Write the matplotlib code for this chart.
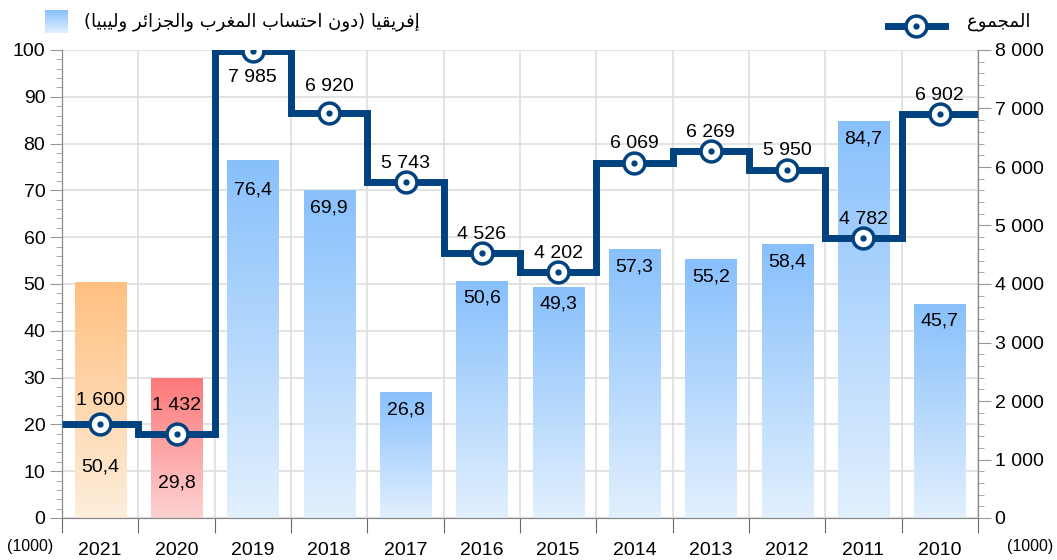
import numpy as np
import matplotlib
matplotlib.use('Agg')
import matplotlib.pyplot as plt
from matplotlib.colors import LinearSegmentedColormap
from matplotlib.lines import Line2D

# data
years = ['2021', '2020', '2019', '2018', '2017', '2016', '2015', '2014',
         '2013', '2012', '2011', '2010']
africa = [50.4, 29.8, 76.4, 69.9, 26.8, 50.6, 49.3, 57.3, 55.2, 58.4, 84.7, 45.7]
total = [1600, 1432, 7985, 6920, 5743, 4526, 4202, 6069, 6269, 5950, 4782, 6902]

legend_bars = 'إفريقيا (دون احتساب المغرب والجزائر وليبيا)'
legend_line = 'المجموع'

# minimal arabic shaping (matplotlib has no shaping / bidi)
FORMS = {
    'ا': ('\ufe8d', '\ufe8e', None, None),
    'إ': ('\ufe87', '\ufe88', None, None),
    'ب': ('\ufe8f', '\ufe90', '\ufe91', '\ufe92'),
    'ت': ('\ufe95', '\ufe96', '\ufe97', '\ufe98'),
    'ج': ('\ufe9d', '\ufe9e', '\ufe9f', '\ufea0'),
    'ح': ('\ufea1', '\ufea2', '\ufea3', '\ufea4'),
    'د': ('\ufea9', '\ufeaa', None, None),
    'ر': ('\ufead', '\ufeae', None, None),
    'ز': ('\ufeaf', '\ufeb0', None, None),
    'س': ('\ufeb1', '\ufeb2', '\ufeb3', '\ufeb4'),
    'ع': ('\ufec9', '\ufeca', '\ufecb', '\ufecc'),
    'غ': ('\ufecd', '\ufece', '\ufecf', '\ufed0'),
    'ف': ('\ufed1', '\ufed2', '\ufed3', '\ufed4'),
    'ق': ('\ufed5', '\ufed6', '\ufed7', '\ufed8'),
    'ل': ('\ufedd', '\ufede', '\ufedf', '\ufee0'),
    'م': ('\ufee1', '\ufee2', '\ufee3', '\ufee4'),
    'ن': ('\ufee5', '\ufee6', '\ufee7', '\ufee8'),
    'و': ('\ufeed', '\ufeee', None, None),
    'ي': ('\ufef1', '\ufef2', '\ufef3', '\ufef4'),
    'ئ': ('\ufe89', '\ufe8a', '\ufe8b', '\ufe8c'),
}


def shape(txt):
    out = []
    for i, c in enumerate(txt):
        if c not in FORMS:
            out.append(c)
            continue
        prev = txt[i - 1] if i > 0 else ''
        nxt = txt[i + 1] if i < len(txt) - 1 else ''
        jp = prev in FORMS and FORMS[prev][2] is not None
        jn = FORMS[c][2] is not None and nxt in FORMS
        iso, fin, ini, med = FORMS[c]
        if jp and jn:
            out.append(med)
        elif jp:
            out.append(fin)
        elif jn:
            out.append(ini)
        else:
            out.append(iso)
    s = ''.join(out)[::-1]
    return s.translate(str.maketrans('()', ')('))


plt.rcParams['font.family'] = ['Liberation Sans', 'DejaVu Sans']

navy = '#00427f'
blue_cm = LinearSegmentedColormap.from_list('b', ['#e2f0fe', '#88c0fc'])
orange_cm = LinearSegmentedColormap.from_list('o', ['#fdeedc', '#ffc080'])
red_cm = LinearSegmentedColormap.from_list('r', ['#fdd2d2', '#fc7878'])
bar_cmaps = [orange_cm, red_cm] + [blue_cm] * 10
fs = 14

fig = plt.figure(figsize=(10.57, 5.6), dpi=100)
ax = fig.add_axes([62 / 1057, 1 - 518 / 560, 916 / 1057, 468 / 560])
ax2 = ax.twinx()

x = np.arange(len(years))
w = 0.67
grad = np.linspace(0, 1, 256).reshape(-1, 1)
for xi, v, cm in zip(x, africa, bar_cmaps):
    ax.imshow(grad, cmap=cm, origin='lower', aspect='auto',
              extent=[xi - w / 2, xi + w / 2, 0, v], zorder=2)

# bar labels (pixel offset below top, a few moved down)
bar_off = {0: -185, 1: -104, 2: -30}
for i, (xi, v) in enumerate(zip(x, africa)):
    off = bar_off.get(i, -17)
    ax.annotate(('%.1f' % v).replace('.', ','), (xi, v), xytext=(0, off * 0.72),
                textcoords='offset points', ha='center', va='center',
                fontsize=fs, zorder=5)

ax.set_xlim(-0.5, len(years) - 0.5)
ax.set_ylim(0, 100)
ax.set_yticks(np.arange(0, 101, 10))
ax.set_yticks(np.arange(0, 101, 2), minor=True)
ax.set_xticks(np.arange(-0.5, len(years), 1))
ax.set_xticks(x, minor=True)
ax.set_xticklabels([])
ax.set_xticklabels(years, minor=True)
ax.grid(True, which='major', color='#dedede', lw=1.2, zorder=0)
ax.set_axisbelow(True)
ax.tick_params(axis='y', which='major', length=9, color='#999999',
               labelsize=fs, pad=3)
ax.tick_params(axis='y', which='minor', length=4.5, color='#999999')
ax.tick_params(axis='x', which='major', length=11, color='#666666')
ax.tick_params(axis='x', which='minor', length=0, labelsize=fs, pad=17)

ax2.set_ylim(0, 8000)
ax2.set_yticks(np.arange(0, 8001, 1000))
ax2.set_yticks(np.arange(0, 8001, 200), minor=True)
ax2.set_yticklabels(['{:,}'.format(t).replace(',', ' ') for t in range(0, 8001, 1000)])
ax2.tick_params(axis='y', which='major', length=9, color='#999999',
                labelsize=fs, pad=3)
ax2.tick_params(axis='y', which='minor', length=4.5, color='#999999')

for a in (ax, ax2):
    a.spines['top'].set_visible(False)
    for s in ('left', 'right', 'bottom'):
        a.spines[s].set_color('#888888')

ax2.stairs(total, np.arange(-0.5, len(years)), baseline=None, color=navy,
           lw=5, zorder=3)
ax2.plot(x, total, ls='none', marker='o', ms=15, mfc='white', mec=navy,
         mew=2.5, zorder=4)
ax2.plot(x, total, ls='none', marker='o', ms=3.5, color=navy, zorder=4)

line_off = {0: 24, 1: 29, 2: -27, 3: 27}
for i, (xi, v) in enumerate(zip(x, total)):
    off = line_off.get(i, 19)
    ax2.annotate('{:,}'.format(v).replace(',', ' '), (xi, v),
                 xytext=(0, off * 0.72), textcoords='offset points',
                 ha='center', va='center', fontsize=fs, zorder=5)

fig.text(30 / 1057, 1 - 547 / 560, '(1000)', ha='center', va='center', fontsize=11.5)
fig.text(1030 / 1057, 1 - 547 / 560, '(1000)', ha='center', va='center', fontsize=11.5)

# legend drawn by hand above the plot
lax = fig.add_axes([45 / 1057, 1 - 33 / 560, 23 / 1057, 23 / 560])
lax.imshow(grad, cmap=blue_cm, origin='lower', aspect='auto')
lax.axis('off')
fig.text(420 / 1057, 1 - 22 / 560, shape(legend_bars), ha='right', va='center',
         fontsize=13, family=['DejaVu Sans'])
fig.add_artist(Line2D([888 / 1057, 945 / 1057], [1 - 26 / 560] * 2, color=navy,
                      lw=5, transform=fig.transFigure))
fig.add_artist(Line2D([916 / 1057], [1 - 26 / 560], ls='none', marker='o', ms=15,
                      mfc='white', mec=navy, mew=2.5, transform=fig.transFigure))
fig.add_artist(Line2D([916 / 1057], [1 - 26 / 560], ls='none', marker='o', ms=3.5,
                      color=navy, transform=fig.transFigure))
fig.text(1030 / 1057, 1 - 22 / 560, shape(legend_line), ha='right', va='center',
         fontsize=13, family=['DejaVu Sans'])

fig.savefig('out.png', dpi=100)
